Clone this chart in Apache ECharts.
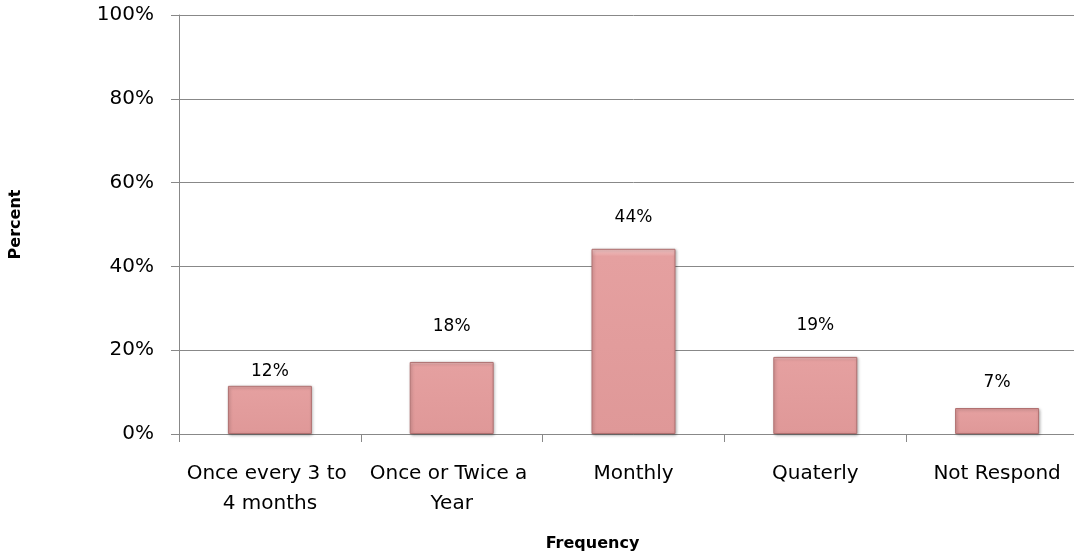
<!DOCTYPE html>
<html>
<head>
<meta charset="utf-8">
<script src="https://cdn.jsdelivr.net/npm/echarts@6/dist/echarts.min.js"></script>
<style>
  html, body { margin: 0; padding: 0; background: #fff; overflow: hidden; }
  /* the plot runs a little past the right edge in the original */
  #chart { width: 1092px; height: 560px; }
</style>
</head>
<body>
<div id="chart"></div>
<script>
// data
var categories = ['Once every 3 to 4 months', 'Once or Twice a Year', 'Monthly', 'Quaterly', 'Not Respond'];
var percents = [11.5, 17.2, 44.2, 18.4, 6.2];
var labelTexts = ['12%', '18%', '44%', '19%', '7%'];
var yTicks = [0, 20, 40, 60, 80, 100];

// label gap above each bar (style only)
var labelGaps = [6, 27, 23, 23, 17];

var chart = echarts.init(document.getElementById('chart'));

var font = 'DejaVu Sans';

chart.setOption({
    animation: false,
    grid: {
        left: 178,
        right: 4,
        top: 15,
        bottom: 126,
        containLabel: false
    },
    xAxis: {
        type: 'category',
        data: categories,
        name: 'Frequency',
        nameLocation: 'middle',
        nameGap: 102,
        nameTextStyle: {
            fontFamily: font,
            fontSize: 16,
            fontWeight: 'bold',
            color: '#000',
            padding: [0, 82, 0, 0]
        },
        axisLine: { lineStyle: { color: '#888', width: 1 } },
        axisTick: { show: true, length: 8, alignWithLabel: false, lineStyle: { color: '#888' } },
        axisLabel: {
            fontFamily: font,
            fontSize: 20,
            color: '#000',
            margin: 25,
            lineHeight: 30,
            width: 170,
            overflow: 'break',
            interval: 0
        }
    },
    yAxis: {
        type: 'value',
        min: yTicks[0],
        max: yTicks[yTicks.length - 1],
        interval: 20,
        name: 'Percent',
        nameLocation: 'middle',
        nameRotate: 90,
        nameGap: 155,
        nameTextStyle: {
            fontFamily: font,
            fontSize: 16,
            fontWeight: 'bold',
            color: '#000'
        },
        axisLine: { show: true, lineStyle: { color: '#888', width: 1 } },
        axisTick: { show: true, length: 8, lineStyle: { color: '#888' } },
        splitLine: { show: true, lineStyle: { color: '#888', width: 1 } },
        axisLabel: {
            fontFamily: font,
            fontSize: 20,
            color: '#000',
            margin: 25,
            formatter: function (v) { return v + '%'; }
        }
    },
    series: [{
        type: 'bar',
        barWidth: 84,
        data: percents.map(function (v, i) {
            return {
                value: v,
                label: {
                    show: true,
                    position: 'top',
                    distance: labelGaps[i],
                    formatter: labelTexts[i]
                }
            };
        }),
        label: {
            fontFamily: font,
            fontSize: 17,
            color: '#000'
        },
        itemStyle: {
            color: new echarts.graphic.LinearGradient(0, 0, 0, 1, [
                { offset: 0, color: '#f5c9c9' },
                { offset: 0.04, color: '#e5a0a0' },
                { offset: 1, color: '#df9898' }
            ]),
            borderColor: '#b07070',
            borderWidth: 1,
            shadowColor: 'rgba(0,0,0,0.3)',
            shadowBlur: 3,
            shadowOffsetX: 1,
            shadowOffsetY: 1
        }
    }]
});
</script>
</body>
</html>
